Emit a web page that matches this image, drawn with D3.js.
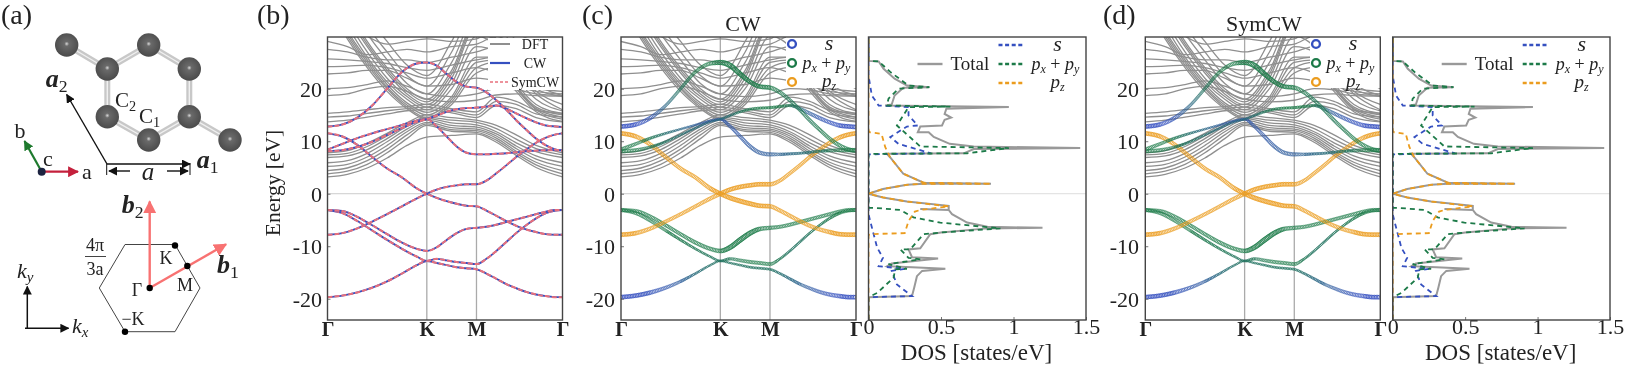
<!DOCTYPE html>
<html lang="en">
<head>
<meta charset="utf-8">
<title>Band structure</title>
<script src="https://d3js.org/d3.v7.min.js"></script>
<style>
html, body { margin: 0; padding: 0; background: #fff; }
svg { display: block; font-family: "Liberation Serif", serif; filter: blur(0.45px); }
text { fill: #222; }
.math { font-style: italic; }
.vec { font-style: italic; font-weight: bold; }
</style>
</head>
<body>
<div id="container"></div>
<script>
// k path samples, Gamma=0 K=1 M=1.5 Gamma=2.366
var kTicks = [0, 1, 1.5, 2.366];
var kLabels = ["Γ", "K", "M", "Γ"];
var energyTicks = [-20, -10, 0, 10, 20];
var dosTicks = [0, 0.5, 1, 1.5];
var dosTickLabels = ["0", "0.5", "1", "1.5"];

var bandK = [0, .15, .3, .45, .6, .75, .9, 1, 1.1, 1.2, 1.3, 1.4, 1.5, 1.6, 1.7, 1.8, 1.9, 2, 2.1, 2.2, 2.3, 2.366];

// the eight wannier bands
var band1 = [-19.7, -19.4, -18.8, -17.9, -16.7, -15.2, -13.6, -12.8, -13.2, -13.6, -14, -14.2, -14.4, -15.2, -16.2, -17.2, -18, -18.7, -19.2, -19.5, -19.7, -19.7];
var band2 = [-3.1, -3.7, -5.2, -7, -8.8, -10.5, -12, -12.8, -12.4, -12.7, -13, -13.2, -13.4, -12.4, -10.9, -9.2, -7.5, -6, -4.7, -3.7, -3.2, -3.1];
var band3 = [-3.1, -3.3, -4.4, -6, -7.7, -9.3, -10.5, -10.9, -10.2, -8.8, -7.5, -6.7, -6.5, -6.3, -5.9, -5.4, -4.9, -4.4, -3.9, -3.4, -3.1, -3.1];
var band4 = [-7.8, -7.5, -6.6, -5.3, -3.9, -2.4, -.9, 0, .8, 1.3, 1.6, 1.8, 1.8, 2.5, 3.9, 5.4, 7, 8.4, 9.7, 10.7, 11.3, 11.5];
var band5 = [11.5, 10.9, 9.3, 7, 4.8, 3.1, 1, 0, -.8, -1.4, -1.9, -2.3, -2.4, -3.2, -4.2, -5.2, -6.1, -6.8, -7.3, -7.7, -7.8, -7.8];
var band6 = [8.4, 9.5, 10.6, 11.5, 12.3, 13.1, 13.9, 14.2, 12.8, 10.9, 9, 7.8, 7.5, 7.5, 7.6, 7.7, 7.9, 8.1, 8.2, 8.3, 8.3, 8.3];
var band7 = [8.1, 8.3, 8.9, 9.9, 11.2, 12.5, 13.7, 14.2, 14.9, 15.6, 16.1, 16.3, 16.4, 16.6, 16.8, 16.2, 15.3, 14.4, 13.6, 13, 12.8, 12.7];
var band8 = [12.8, 13.2, 14.5, 16.8, 20, 23.2, 24.8, 25, 24.4, 22.8, 21.3, 20.4, 20.2, 19.3, 17.8, 16, 14, 12.2, 10.5, 9.2, 8.4, 8.2];
var wannierBands = [band1, band2, band3, band4, band5, band6, band7, band8];

// s character of each band, 0 = px+py, 1 = s (bands 4 and 5 are pz)
var sChar1 = [1, 1, .95, .85, .7, .4, .25, .2, .2, .2, .2, .2, .2, .3, .45, .6, .75, .85, .95, 1, 1, 1];
var sChar2 = [0, 0, 0, 0, .05, .1, .15, .2, .1, .05, 0, 0, 0, .1, .2, .2, .15, .1, .05, 0, 0, 0];
var sChar3 = [0, 0, 0, 0, 0, 0, 0, 0, 0, 0, 0, 0, 0, 0, 0, 0, 0, 0, 0, 0, 0, 0];
var sChar6 = [0, 0, .1, .3, .5, .7, .8, .8, .8, .8, .75, .7, .7, .6, .5, .4, .3, .2, .1, 0, 0, 0];
var sChar7 = [0, 0, .1, .2, .3, .4, .5, .4, .3, .15, .05, 0, 0, 0, .1, .4, .7, .85, .95, 1, 1, 1];
var sChar8 = [1, 1, .9, .5, .15, 0, 0, 0, 0, 0, 0, 0, 0, .05, .1, .1, .1, .05, 0, 0, 0, 0];
var sChars = [sChar1, sChar2, sChar3, null, null, sChar6, sChar7, sChar8];

// projected weight of each band
var weight1 = [1, 1, 1, .8, .6, .4, .3, .3, .3, .35, .4, .4, .4, .4, .5, .6, .7, .8, .9, 1, 1, 1];
var weight2 = [.8, .8, .7, .6, .5, .4, .35, .35, .6, .7, .8, .8, .8, .4, .4, .4, .4, .4, .5, .6, .7, .8];
var weight3 = [.8, .8, .8, .8, .8, .9, .9, 1, 1.2, 1.3, 1.2, 1, .9, .8, .8, .8, .8, .8, .8, .8, .8, .8];
var weight4 = [1, 1, .9, .8, .8, .8, .9, 1, 1, 1, 1, 1, 1, .8, .8, .8, .8, .8, .9, 1, 1, 1];
var weight5 = [1, 1, .9, .9, .9, .9, 1, 1, 1.1, 1.1, 1.1, 1, 1, .9, .9, .9, .9, .9, 1, 1, 1, 1];
var weight6 = [.9, .7, .5, .4, .3, .3, .3, .4, .7, .8, .9, .9, .9, .6, .5, .45, .45, .5, .6, .8, .9, .9];
var weight7 = [.9, .8, .6, .4, .3, .3, .3, .3, .35, .4, .45, .5, .5, .5, .5, .7, .8, .9, .9, 1, 1, 1];
var weight8 = [1, 1, .9, .6, .6, .7, .9, 1.2, 1.3, 1.2, 1, 1, 1, .9, .8, .8, .8, .8, .8, .9, .9, .9];
var weights = [weight1, weight2, weight3, weight4, weight5, weight6, weight7, weight8];

// gray dft bands
var dftK = [0, .2, .4, .6, .8, 1, 1.25, 1.5, 1.7, 1.9, 2.1, 2.366];
var dftBands = [
  [3.2, 3.7, 4.9, 6.8, 9.2, 10.8, 11.1, 11.4, 9.8, 7.3, 5, 3.2],
  [3.8, 4.3, 5.6, 7.8, 10.5, 13, 11.9, 11.7, 10.2, 7.7, 5.5, 3.8],
  [4.4, 4.9, 6.3, 8.5, 11.2, 13.3, 12.2, 12, 10.6, 8.1, 6, 4.4],
  [5.2, 5.6, 7, 9.2, 11.8, 13.6, 12.6, 12.3, 11, 8.6, 6.6, 5.2],
  [5.9, 6.3, 7.7, 9.9, 12.3, 14, 13, 12.7, 11.4, 9.1, 7.2, 5.9],
  [6.9, 7.2, 8.4, 10.5, 12.8, 14.3, 13.5, 13.1, 11.8, 9.7, 8, 6.9],
  [7.4, 7.7, 9, 11, 13.1, 14.6, 14, 13.6, 12.4, 10.4, 8.6, 7.4],
  [7.8, 8.2, 9.6, 11.5, 13.5, 15, 14.5, 14, 13, 11.2, 9.2, 7.8],
  [13.7, 14, 14.6, 15.2, 15.8, 16, 15.4, 14.5, 16.8, 16.2, 14.5, 13.7],
  [14.6, 14.8, 15.3, 15.8, 16.2, 16.5, 15.8, 15, 17.6, 17, 15.2, 14.6],
  [15.3, 15.6, 16, 16.4, 16.6, 17, 16.2, 15.6, 18.4, 17.6, 15.9, 15.3],
  [36, 29.5, 24, 19.5, 16.2, 14.2, 17, 23, 24, 19.5, 15.6, 13.8],
  [36.5, 30, 24.5, 20, 16.5, 14.5, 17.5, 24, 25, 20, 16, 14.2],
  [37, 30.5, 25, 20.3, 16.9, 15, 18, 25, 25.5, 20.2, 16.2, 14.6],
  [38, 31, 25.5, 20.8, 17.3, 15.5, 18.5, 26, 26, 20.5, 16.5, 15],
  [39, 32, 26, 21.3, 18, 16, 20, 28, 27, 21, 17, 15.3],
  [40, 33, 27, 22, 18.5, 16.5, 21, 30, 28, 22, 18, 15.8],
  [41, 34, 28, 23, 19, 17, 22, 32, 29, 23, 19, 16],
  [42, 34.7, 28.5, 23.5, 19.5, 17.5, 22.8, 32.5, 29.3, 23.5, 19.5, 17],
  [43, 35.5, 29, 24, 20, 18, 23.5, 33, 29.5, 24, 20, 18.5],
  [44, 37, 30.5, 25.5, 21, 19, 25, 34, 31, 25, 21, 18.7],
  [46, 39, 32, 27, 22.5, 20.5, 27, 36, 33, 27, 23, 20],
  [47, 41, 34, 29, 24.5, 22.5, 29, 38, 35, 29, 25, 23],
  [18.7, 19, 20, 20.5, 19.5, 18, 17.5, 17.8, 18.8, 19, 18.7, 18.6],
  [20, 20.2, 20.8, 21.5, 20.5, 19, 18.5, 19, 20, 19.8, 19, 18.7],
  [22.8, 23, 23.5, 23.5, 22, 20.5, 20.8, 22, 21.5, 20.5, 19.5, 19],
  [24.2, 24.3, 24.5, 24, 23, 22, 23, 24, 23, 21.5, 20, 19.5],
  [25.7, 25.5, 25.2, 24.8, 24, 23.5, 24.5, 25.5, 26, 24, 22, 21],
  [27.5, 27, 26, 25.5, 25.5, 25, 26, 27, 28, 26, 24, 23],
  [29, 28, 26.5, 27, 27.5, 27, 28, 28.5, 30, 28, 26, 25.5],
  [35, 33, 30, 28.5, 29, 29.5, 29, 29.5, 32, 30.5, 29, 28.5]
];

// dos curves, energy in eV and states/eV
var dosTotalE = [-24, -19.7, -19.5, -17.9, -15.7, -14.7, -14.3, -14, -13.8, -13.3, -12.35, -12.1, -10.6, -10.4, -7.7, -7.4, -6.6, -6.5, -6.3, -5.5, -3.9, -3.1, -2.9, -3.1, -2.4, -2.3, -1.5, -.7, 0, .9, 1.7, 1.9, 1.9, 2.1, 3.8, 6.9, 7.6, 7.7, 8.5, 8.7, 9, 9.5, 10.8, 11.7, 11.7, 12.8, 13, 14.1, 14.5, 15.2, 16.2, 16.5, 16.8, 17, 18.7, 20.2, 20.3, 20.6, 21.9, 23.8, 25.2, 25.3, 30];
var dosTotalV = [0, 0, .3, .315, .334, .37, .53, .3, .13, .16, .48, .3, .276, .357, .426, .5, .82, 1.2, .82, .68, .576, .553, .357, .553, .553, .553, .265, .1, 0, .1, .265, .38, .845, .38, .24, .15, .127, .657, .726, 1.46, .726, .56, .45, .415, .34, .357, .507, .525, .57, .525, .537, .968, .115, .16, .18, .24, .42, .265, .18, .104, .07, 0, 0];
var dosSE = [-24, -19.7, -19.5, -17.3, -14.7, -14.3, -13.8, -12.2, -10.3, -6.4, -3.9, 7.5, 7.7, 9.5, 10.8, 12.8, 13, 14.9, 16.5, 16.8, 18.7, 22.5, 30];
var dosSV = [0, 0, .3, .196, .16, .25, .07, .1, .06, .023, 0, 0, .43, .207, .15, .265, .34, .276, .276, .07, .023, 0, 0];
var dosPxyE = [-24, -19.7, -18.9, -16, -14.4, -14.3, -13.4, -12.5, -12.2, -10.6, -10.6, -7.7, -7.4, -6.6, -5.5, -4.5, -3.1, -2.7, -2.7, 7.5, 7.6, 7.7, 8.7, 9, 13, 16.5, 16.6, 16.8, 18.1, 20, 20.3, 20.6, 23.2, 25.2, 25.3, 30];
var dosPxyV = [0, 0, .06, .173, .184, .265, .138, .357, .276, .22, .288, .38, .495, .91, .495, .31, .22, .046, 0, 0, .046, .68, .968, .357, .196, .276, .565, .127, .138, .207, .42, .276, .15, .07, 0, 0];
var dosPzE = [-24, -7.9, -7.7, -7.5, -5.2, -3.4, -3.1, -2.4, -1.5, -.7, 0, .9, 1.7, 1.9, 1.9, 2.1, 3.8, 6.9, 8.9, 11.4, 11.7, 12, 30];
var dosPzV = [0, 0, .01, .25, .276, .32, .357, .553, .265, .1, 0, .1, .265, .38, .845, .38, .24, .15, .115, .09, .01, 0, 0];

var colS = "#3550c0", colP = "#1c7a48", colZ = "#eb9c1e", colGray = "#8f8f8f";

var w = 1627, h = 367;
var svg = d3.select("#container").append("svg").attr("width", w).attr("height", h).attr("viewBox", "0 0 " + w + " " + h);

var defs = svg.append("defs");
var grad = defs.append("radialGradient").attr("id", "atom").attr("cx", "50%").attr("cy", "45%").attr("r", "55%");
grad.append("stop").attr("offset", "0").attr("stop-color", "#d8d8d8");
grad.append("stop").attr("offset", ".18").attr("stop-color", "#6a6a6a");
grad.append("stop").attr("offset", "1").attr("stop-color", "#4a4a4a");
function marker(id, color, size) {
  defs.append("marker").attr("id", id).attr("viewBox", "0 0 10 10").attr("refX", 9).attr("refY", 5)
    .attr("markerWidth", size).attr("markerHeight", size).attr("markerUnits", "userSpaceOnUse").attr("orient", "auto")
    .append("path").attr("d", "M0,0L10,5L0,10Z").attr("fill", color);
}
marker("arrBlack", "#111", 9);
marker("arrPink", "#f87272", 13);
marker("arrRed", "#c4203c", 11);
marker("arrGreen", "#1e7a2e", 10);

var yTop = 37, yBottom = 320;
var yScale = d3.scaleLinear().domain([-24.05, 29.85]).range([yBottom, yTop]);

function clipFor(id, x0, x1) {
  defs.append("clipPath").attr("id", id).append("rect").attr("x", x0).attr("y", yTop).attr("width", x1 - x0).attr("height", yBottom - yTop);
}

function bandPanel(id, x0, x1, labelX) {
  var x = d3.scaleLinear().domain([0, 2.366]).range([x0, x1]);
  clipFor(id, x0, x1);
  var g = svg.append("g");
  var plot = g.append("g").attr("clip-path", "url(#" + id + ")");

  // K, M and zero guide lines
  plot.selectAll("line.sym").data([1, 1.5]).enter().append("line").attr("class", "sym")
    .attr("x1", x).attr("x2", x).attr("y1", yTop).attr("y2", yBottom)
    .attr("stroke", "#aaa").attr("stroke-width", 1.3);
  plot.append("line").attr("x1", x0).attr("x2", x1).attr("y1", yScale(0)).attr("y2", yScale(0))
    .attr("stroke", "#ccc").attr("stroke-width", 1);

  var dftLine = d3.line().x(function(d, i) { return x(dftK[i]); }).y(function(d) { return yScale(d); }).curve(d3.curveMonotoneX);
  plot.selectAll("path.dft").data(dftBands).enter().append("path").attr("class", "dft")
    .attr("d", dftLine).attr("fill", "none").attr("stroke", colGray).attr("stroke-width", 1.3);

  var axL = d3.axisLeft(yScale).tickValues(energyTicks).tickFormat(String).tickSize(-3).tickPadding(0);
  var left = g.append("g").attr("transform", "translate(" + x0 + ",0)").call(axL);
  left.select(".domain").remove();
  left.selectAll(".tick line").attr("stroke", "#777");
  left.selectAll("text").attr("x", labelX - x0).attr("text-anchor", "end").attr("dy", "0.34em")
    .attr("font-size", 22).attr("font-family", "Liberation Serif").attr("fill", "#222");

  var axB = d3.axisBottom(x).tickValues(kTicks).tickFormat(function(d, i) { return kLabels[i]; }).tickSize(0);
  var bottom = g.append("g").attr("transform", "translate(0," + yBottom + ")").call(axB);
  bottom.select(".domain").remove();
  bottom.selectAll("text").attr("y", 16).attr("dy", 0).attr("font-size", 20).attr("font-weight", "bold")
    .attr("font-family", "Liberation Serif").attr("fill", "#222");

  return { x: x, g: g, plot: plot, line: d3.line().x(function(d, i) { return x(bandK[i]); }).y(function(d) { return yScale(d); }).curve(d3.curveMonotoneX) };
}

function frame(g, x0, x1) {
  g.append("rect").attr("x", x0).attr("y", yTop).attr("width", x1 - x0).attr("height", yBottom - yTop)
    .attr("fill", "none").attr("stroke", "#444").attr("stroke-width", 1.4);
}

// rings along a band, size and colour follow the projected weights
function drawRings(panel) {
  wannierBands.forEach(function(band, b) {
    var guide = panel.plot.append("path").attr("d", panel.line(band)).attr("fill", "none").attr("stroke", "none");
    var node = guide.node(), len = node.getTotalLength();
    var wScale = d3.scaleLinear().domain(bandK).range(weights[b]);
    var sScale = sChars[b] ? d3.scaleLinear().domain(bandK).range(sChars[b]) : null;
    var pts = d3.range(0, len, 1.6).map(function(l) { return node.getPointAtLength(l); });
    panel.plot.append("g").selectAll("circle").data(pts).enter().append("circle")
      .attr("cx", function(p) { return p.x; })
      .attr("cy", function(p) { return p.y; })
      .attr("r", function(p) { return 0.35 + 1.6 * wScale(panel.x.invert(p.x)); })
      .attr("fill", "none")
      .attr("stroke", function(p) {
        return sScale ? d3.interpolateRgb(colP, colS)(sScale(panel.x.invert(p.x))) : colZ;
      })
      .attr("stroke-width", 0.9)
      .attr("stroke-opacity", function(p) {
        var wt = wScale(panel.x.invert(p.x));
        return wt >= 1 ? 0.8 : wt < 0.6 ? 0.85 : 0.6;
      });
  });
}

function orbitalLabels(g, cx, xp, y0, y1, y2) {
  g.append("text").attr("class", "math").attr("x", cx).attr("y", y0).attr("text-anchor", "middle").attr("font-size", 22).text("s");
  var t = g.append("text").attr("class", "math").attr("x", xp).attr("y", y1).attr("font-size", 18);
  t.append("tspan").text("p");
  t.append("tspan").attr("font-size", 12).attr("dy", 3).text("x");
  t.append("tspan").attr("dy", -3).attr("font-style", "normal").text(" + ");
  t.append("tspan").text("p");
  t.append("tspan").attr("font-size", 12).attr("dy", 3).text("y");
  var z = g.append("text").attr("class", "math").attr("x", cx).attr("y", y2).attr("text-anchor", "middle").attr("font-size", 19);
  z.append("tspan").text("p");
  z.append("tspan").attr("font-size", 12).attr("dy", 3).text("z");
}

function ringLegend(g, xBox, xBoxEnd) {
  g.append("rect").attr("x", xBox).attr("y", yTop).attr("width", xBoxEnd - xBox).attr("height", 51).attr("fill", "#fff");
  [[colS, 44], [colP, 63], [colZ, 82]].forEach(function(d) {
    g.append("circle").attr("cx", xBox + 6).attr("cy", d[1]).attr("r", 3.9).attr("fill", "none").attr("stroke", d[0]).attr("stroke-width", 2.4);
  });
  orbitalLabels(g, xBox + 43, xBox + 16.5, 50, 69, 87);
}

function dosPanel(id, x0, x1) {
  var x = d3.scaleLinear().domain([0, 1.5]).range([x0, x1]);
  clipFor(id, x0, x1);
  var g = svg.append("g");
  var plot = g.append("g").attr("clip-path", "url(#" + id + ")");
  plot.append("line").attr("x1", x0).attr("x2", x1).attr("y1", yScale(0)).attr("y2", yScale(0)).attr("stroke", "#ddd").attr("stroke-width", 1);

  function curve(es, vs) {
    return d3.line().x(function(d) { return x(d); }).y(function(d, i) { return yScale(es[i]); })(vs);
  }
  plot.append("path").attr("d", curve(dosTotalE, dosTotalV)).attr("fill", "none").attr("stroke", "#999").attr("stroke-width", 2);
  [[dosSE, dosSV, colS], [dosPxyE, dosPxyV, colP], [dosPzE, dosPzV, colZ]].forEach(function(c) {
    plot.append("path").attr("d", curve(c[0], c[1])).attr("fill", "none").attr("stroke", c[2])
      .attr("stroke-width", 1.8).attr("stroke-dasharray", "5 4");
  });

  var axB = d3.axisBottom(x).tickValues(dosTicks).tickFormat(function(d, i) { return dosTickLabels[i]; }).tickSize(-3);
  var bottom = g.append("g").attr("transform", "translate(0," + yBottom + ")").call(axB);
  bottom.select(".domain").remove();
  bottom.selectAll(".tick line").attr("stroke", "#777");
  bottom.selectAll("text").attr("y", 14).attr("dy", 0).attr("font-size", 22).attr("font-family", "Liberation Serif").attr("fill", "#222");
  g.append("text").attr("x", x0 + 108).attr("y", 360).attr("text-anchor", "middle").attr("font-size", 23).text("DOS [states/eV]");

  // legend
  g.append("line").attr("x1", x0 + 49).attr("x2", x0 + 74).attr("y1", 64).attr("y2", 64).attr("stroke", "#999").attr("stroke-width", 2.4);
  g.append("text").attr("x", x0 + 82).attr("y", 70).attr("font-size", 19).text("Total");
  [[colS, 45], [colP, 64], [colZ, 83]].forEach(function(d) {
    g.append("line").attr("x1", x0 + 130).attr("x2", x0 + 155).attr("y1", d[1]).attr("y2", d[1])
      .attr("stroke", d[0]).attr("stroke-width", 2.6).attr("stroke-dasharray", "4 2.6");
  });
  orbitalLabels(g, x0 + 189, x0 + 163, 51, 70, 88);

  frame(g, x0, x1);
}

// panel b
var pb = bandPanel("clipB", 327.5, 562.5, 322);
wannierBands.forEach(function(band) {
  pb.plot.append("path").attr("d", pb.line(band)).attr("fill", "none").attr("stroke", colS).attr("stroke-width", 1.9);
  pb.plot.append("path").attr("d", pb.line(band)).attr("fill", "none").attr("stroke", "#e8707c").attr("stroke-width", 2).attr("stroke-dasharray", "5 2");
});
pb.g.append("rect").attr("x", 488).attr("y", yTop + 1).attr("width", 74).attr("height", 52).attr("fill", "#fff");
pb.g.append("line").attr("x1", 490).attr("x2", 510).attr("y1", 44).attr("y2", 44).attr("stroke", colGray).attr("stroke-width", 2);
pb.g.append("line").attr("x1", 490).attr("x2", 510).attr("y1", 63).attr("y2", 63).attr("stroke", colS).attr("stroke-width", 2.2);
pb.g.append("line").attr("x1", 490).attr("x2", 510).attr("y1", 82).attr("y2", 82).attr("stroke", "#e8707c").attr("stroke-width", 1.5).attr("stroke-dasharray", "3 2");
[["DFT", 535, 49], ["CW", 535, 68], ["SymCW", 535, 87]].forEach(function(d) {
  pb.g.append("text").attr("x", d[1]).attr("y", d[2]).attr("text-anchor", "middle").attr("font-size", 14).attr("fill", "#444").text(d[0]);
});
frame(pb.g, 327.5, 562.5);
pb.g.append("text").attr("transform", "translate(280,183) rotate(-90)").attr("text-anchor", "middle").attr("font-size", 21.5).text("Energy [eV]");

// panel c
var pc = bandPanel("clipC", 621, 856, 615);
drawRings(pc);
ringLegend(pc.g, 786, 856);
frame(pc.g, 621, 856);
pc.g.append("text").attr("x", 743).attr("y", 31).attr("text-anchor", "middle").attr("font-size", 22).text("CW");
dosPanel("clipC2", 868.5, 1086);

// panel d
var pd = bandPanel("clipD", 1145.3, 1380.3, 1139);
drawRings(pd);
ringLegend(pd.g, 1310, 1380.3);
frame(pd.g, 1145.3, 1380.3);
pd.g.append("text").attr("x", 1264).attr("y", 31).attr("text-anchor", "middle").attr("font-size", 22).text("SymCW");
dosPanel("clipD2", 1392.7, 1610);

// panel letters
[["(a)", 1], ["(b)", 257], ["(c)", 582], ["(d)", 1103]].forEach(function(d) {
  svg.append("text").attr("x", d[1]).attr("y", 24).attr("font-size", 28).text(d[0]);
});

// panel a, crystal
var atoms = [[66.7, 45], [107.3, 69], [148.7, 45], [189.3, 69], [107.3, 116.7], [148.7, 140], [189.3, 116.7], [230, 140]];
var bonds = [[0, 1], [1, 2], [2, 3], [1, 4], [3, 6], [4, 5], [5, 6], [6, 7]];
var a = svg.append("g");
a.selectAll("line.bond").data(bonds).enter().append("line").attr("class", "bond")
  .attr("x1", function(d) { return atoms[d[0]][0]; }).attr("y1", function(d) { return atoms[d[0]][1]; })
  .attr("x2", function(d) { return atoms[d[1]][0]; }).attr("y2", function(d) { return atoms[d[1]][1]; })
  .attr("stroke", "#c8c8c8").attr("stroke-width", 6);
a.selectAll("line.shine").data(bonds).enter().append("line").attr("class", "shine")
  .attr("x1", function(d) { return atoms[d[0]][0]; }).attr("y1", function(d) { return atoms[d[0]][1]; })
  .attr("x2", function(d) { return atoms[d[1]][0]; }).attr("y2", function(d) { return atoms[d[1]][1]; })
  .attr("stroke", "#f0f0f0").attr("stroke-width", 1.4);
a.selectAll("circle.atom").data(atoms).enter().append("circle").attr("class", "atom")
  .attr("cx", function(d) { return d[0]; }).attr("cy", function(d) { return d[1]; }).attr("r", 11.7).attr("fill", "url(#atom)");

function arrow(x1, y1, x2, y2, color, mk, width) {
  a.append("line").attr("x1", x1).attr("y1", y1).attr("x2", x2).attr("y2", y2).attr("stroke", color)
    .attr("stroke-width", width).attr("marker-end", "url(#" + mk + ")");
}
function label(x, y, txt, size, cls, sub, anchor) {
  var t = a.append("text").attr("x", x).attr("y", y).attr("font-size", size).attr("text-anchor", anchor || "start");
  if (cls) t.attr("class", cls);
  t.append("tspan").text(txt);
  if (sub) t.append("tspan").attr("font-size", size * .68).attr("dy", size * .2).attr("font-style", cls == "vec" ? "normal" : null).attr("font-weight", "normal").text(sub);
}
arrow(106.7, 163.5, 66.7, 94.5, "#111", "arrBlack", 1.4);
arrow(106.7, 164, 190, 164, "#111", "arrBlack", 1.4);
a.append("line").attr("x1", 106.7).attr("x2", 106.7).attr("y1", 163).attr("y2", 175).attr("stroke", "#111");
a.append("line").attr("x1", 190).attr("x2", 190).attr("y1", 163).attr("y2", 175).attr("stroke", "#111");
arrow(130, 171, 109, 171, "#111", "arrBlack", 1.4);
arrow(167, 171, 188, 171, "#111", "arrBlack", 1.4);
label(148, 180, "a", 25, "math", null, "middle");
label(45.7, 87, "a", 26, "vec", "2");
label(196.7, 168, "a", 26, "vec", "1");
label(115, 107, "C", 21, null, "2");
label(139, 122.7, "C", 21, null, "1");
arrow(41.7, 171.7, 24.5, 141, "#1e7a2e", "arrGreen", 2.2);
arrow(41.7, 171.7, 78, 171.7, "#c4203c", "arrRed", 2.2);
a.append("circle").attr("cx", 41.7).attr("cy", 171.7).attr("r", 4).attr("fill", "#1c2340");
label(20, 138, "b", 22, null, null, "middle");
label(48, 166, "c", 22, null, null, "middle");
label(87, 179, "a", 22, null, null, "middle");

// panel a, brillouin zone
var hexagon = [[125, 244.5], [175, 244.5], [200, 288], [175, 331.7], [125, 331.7], [99.3, 288]];
a.append("path").attr("d", d3.line()(hexagon) + "Z").attr("fill", "none").attr("stroke", "#444").attr("stroke-width", 1);
arrow(149.7, 288, 149.7, 201.5, "#f87272", "arrPink", 2.4);
arrow(149.7, 288, 226, 244.3, "#f87272", "arrPink", 2.4);
[[175, 245.5], [187.3, 266], [149.7, 288], [125, 331.7]].forEach(function(d) {
  a.append("circle").attr("cx", d[0]).attr("cy", d[1]).attr("r", 3.2).attr("fill", "#000");
});
label(166, 264, "K", 18, null, null, "middle");
label(185, 291, "M", 18, null, null, "middle");
label(137, 296, "Γ", 18, null, null, "middle");
label(133, 325, "−K", 18, null, null, "middle");
label(95, 251, "4π", 18, null, null, "middle");
a.append("line").attr("x1", 85).attr("x2", 106).attr("y1", 256.5).attr("y2", 256.5).attr("stroke", "#444");
label(95, 275, "3a", 18, null, null, "middle");
label(217, 273, "b", 26, "vec", "1");
label(121.7, 213, "b", 26, "vec", "2");
arrow(27.3, 328.3, 27.3, 286.5, "#111", "arrBlack", 1.5);
arrow(25, 328.3, 68.5, 328.3, "#111", "arrBlack", 1.5);
label(17, 278, "k", 22, "math", "y");
label(72, 333, "k", 22, "math", "x");
</script>
</body>
</html>
